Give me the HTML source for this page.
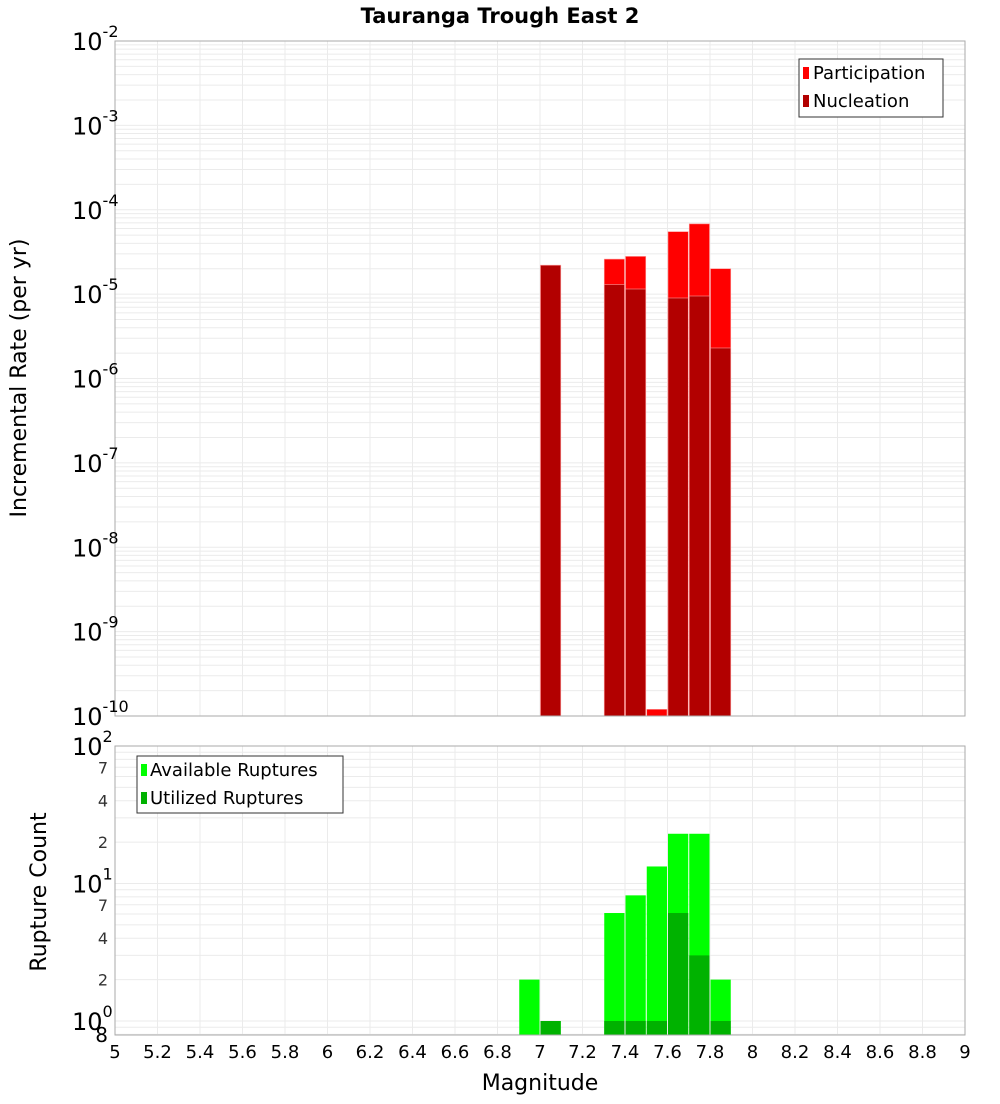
<!DOCTYPE html>
<html><head><meta charset="utf-8"><style>
body{margin:0;background:#fff;font-family:"DejaVu Sans","Liberation Sans",sans-serif}
</style></head><body>
<svg id="c" width="1000" height="1100" xmlns="http://www.w3.org/2000/svg" font-family="DejaVu Sans, Liberation Sans, sans-serif">
<text x="500" y="23" text-anchor="middle" font-weight="bold" font-size="21">Tauranga Trough East 2</text>
<g id="topPlot"></g><g id="botPlot"></g>
<text transform="translate(26,378) rotate(-90)" text-anchor="middle" font-size="22">Incremental Rate (per yr)</text>
<text transform="translate(46,892) rotate(-90)" text-anchor="middle" font-size="22">Rupture Count</text>
<text x="540" y="1090" text-anchor="middle" font-size="22">Magnitude</text>
</svg>
<script>
const mags=[6.95,7.05,7.35,7.45,7.55,7.65,7.75,7.85];
const participation=[0,2.2e-5,2.6e-5,2.8e-5,1.2e-10,5.5e-5,6.8e-5,2.0e-5];
const nucleation=[0,2.2e-5,1.3e-5,1.15e-5,0,9e-6,9.5e-6,2.3e-6];
const available=[2,1,6.1,8.2,13.3,23,23,2];
const utilized=[0,1,1,1,1,6.1,3,1];
const xTicks=[5,5.2,5.4,5.6,5.8,6,6.2,6.4,6.6,6.8,7,7.2,7.4,7.6,7.8,8,8.2,8.4,8.6,8.8,9];
const topExps=[-2,-3,-4,-5,-6,-7,-8,-9,-10];
const botMinor=[7,4,2];

const NS="http://www.w3.org/2000/svg";
const L=115,R=965;
const X=m=>L+(m-5)*(R-L)/4;
const T0=41,T1=716,YT=v=>T0+(-2-Math.log10(v))*(T1-T0)/8;
const B0=746,B1=1035,YB=v=>1021-Math.log10(v)*137.5;
function mk(p,tag,a,name,txt){const e=document.createElementNS(NS,tag);for(const k in a)e.setAttribute(k,a[k]);


if(txt!==undefined)e.textContent=txt;p.appendChild(e);return e;}
const topG=document.getElementById('topPlot'),botG=document.getElementById('botPlot');
for(let d=-10;d<-2;d++)for(let k=1;k<10;k++){const y=YT(k*Math.pow(10,d));mk(topG,'line',{x1:L,x2:R,y1:y,y2:y,stroke:'#ebebeb'},'grid-line-h');}
for(let d=-1;d<2;d++)for(let k=1;k<10;k++){const y=YB(k*Math.pow(10,d));if(y>B0&&y<B1)mk(botG,'line',{x1:L,x2:R,y1:y,y2:y,stroke:'#ebebeb'},'grid-line-h');}
xTicks.forEach(t=>{const x=X(t);mk(topG,'line',{x1:x,x2:x,y1:T0,y2:T1,stroke:'#ebebeb'},'grid-line-v');mk(botG,'line',{x1:x,x2:x,y1:B0,y2:B1,stroke:'#ebebeb'},'grid-line-v');
mk(botG,'text',{x:x,y:1058,'text-anchor':'middle','font-size':18},'x-tick-label',String(t));});
const bw=(R-L)/40;
mags.forEach((m,i)=>{const x=X(m)-bw/2+0.5;
if(participation[i]>0){const y=YT(participation[i]);mk(topG,'rect',{x:x,y:y,width:bw-1,height:T1-y,fill:'#ff0000',stroke:'#ff9999','stroke-width':0.6},'bar-participation');}
if(nucleation[i]>0){const y=YT(nucleation[i]);mk(topG,'rect',{x:x,y:y,width:bw-1,height:T1-y,fill:'#b20000',stroke:'#ff9999','stroke-width':0.6},'bar-nucleation');}
if(available[i]>0){const y=YB(available[i]);mk(botG,'rect',{x:x,y:y,width:bw-1,height:B1-y,fill:'#00ff00'},'bar-available');}
if(utilized[i]>0){const y=YB(utilized[i]);mk(botG,'rect',{x:x,y:y,width:bw-1,height:B1-y,fill:'#00b200'},'bar-utilized');}
});
mk(topG,'rect',{x:L,y:T0,width:R-L,height:T1-T0,fill:'none',stroke:'#aaa'},'plot-frame-top');
mk(botG,'rect',{x:L,y:B0,width:R-L,height:B1-B0,fill:'none',stroke:'#aaa'},'plot-frame-bottom');
topExps.forEach(e=>{const y=YT(Math.pow(10,e));const t=mk(topG,'text',{x:72,y:y+9,'font-size':24},'y-tick-label','10');
mk(t,'tspan',{dy:-13,'font-size':16},'y-tick-exp',String(e));});
[[2,100],[1,10],[0,1]].forEach(([e,v])=>{const y=YB(v);const t=mk(botG,'text',{x:72,y:y+9,'font-size':24},'y-tick-label','10');mk(t,'tspan',{dy:-13,'font-size':16},'y-tick-exp',String(e));});
[1,10].forEach(s=>botMinor.forEach(k=>{mk(botG,'text',{x:108,y:YB(k*s)+6,'text-anchor':'end','font-size':16,fill:'#333'},'y-minor-label',String(k));}));
mk(botG,'text',{x:108,y:1042,'text-anchor':'end','font-size':20},'y-minor-label','8');
const lg1=mk(topG,'g',{},'legend-top');
mk(lg1,'rect',{x:799,y:59,width:144,height:58,fill:'#fff',stroke:'#333'},'legend-box');
mk(lg1,'rect',{x:803,y:67,width:6,height:12,fill:'#ff0000'},'legend-swatch-participation');
mk(lg1,'text',{x:813,y:79,'font-size':18},'legend-label-participation','Participation');
mk(lg1,'rect',{x:803,y:95,width:6,height:12,fill:'#b20000'},'legend-swatch-nucleation');
mk(lg1,'text',{x:813,y:107,'font-size':18},'legend-label-nucleation','Nucleation');
const lg2=mk(botG,'g',{},'legend-bottom');
mk(lg2,'rect',{x:137,y:756,width:206,height:57,fill:'#fff',stroke:'#333'},'legend-box');
mk(lg2,'rect',{x:141,y:764,width:6,height:12,fill:'#00ff00'},'legend-swatch-available');
mk(lg2,'text',{x:150,y:776,'font-size':18},'legend-label-available','Available Ruptures');
mk(lg2,'rect',{x:141,y:792,width:6,height:12,fill:'#00b200'},'legend-swatch-utilized');
mk(lg2,'text',{x:150,y:804,'font-size':18},'legend-label-utilized','Utilized Ruptures');
</script>
</body></html>
